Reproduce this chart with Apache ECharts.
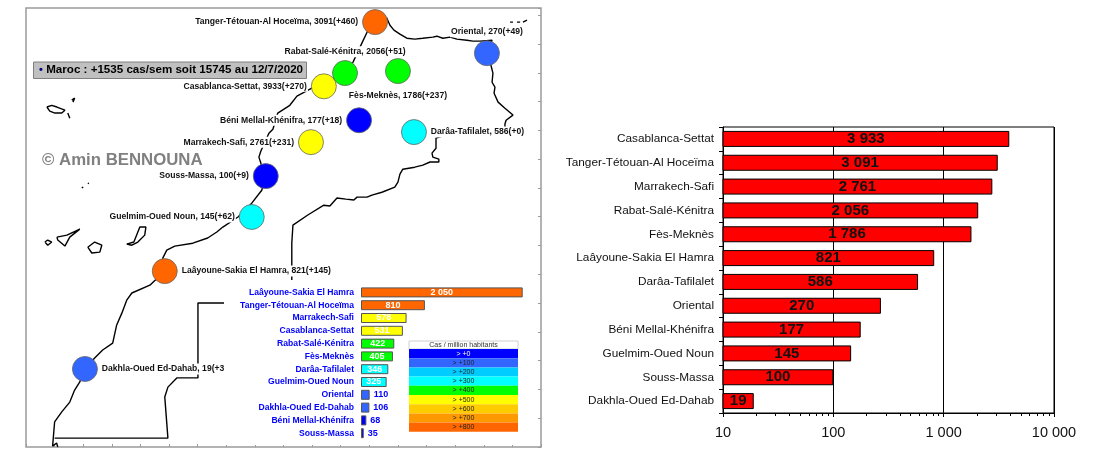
<!DOCTYPE html>
<html>
<head>
<meta charset="utf-8">
<style>html,body{margin:0;padding:0;background:#fff}#chart{width:1097px;height:455px}</style>
<script src="https://cdn.jsdelivr.net/npm/echarts@6/dist/echarts.min.js"></script>
</head>
<body>
<div id="chart"></div>
<script>
// Regional COVID-19 figures for Morocco
const regionNames = ['Casablanca-Settat','Tanger-Tétouan-Al Hoceïma','Marrakech-Safi','Rabat-Salé-Kénitra','Fès-Meknès','Laâyoune-Sakia El Hamra','Darâa-Tafilalet','Oriental','Béni Mellal-Khénifra','Guelmim-Oued Noun','Souss-Massa','Dakhla-Oued Ed-Dahab'];
const regionCases = [3933,3091,2761,2056,1786,821,586,270,177,145,100,19];
const regionWeekly = [270,460,231,51,237,145,0,49,18,62,9,3];
const regionPerMillion = [531,810,578,422,405,2050,346,110,68,325,35,106];
const regionLon = [-7.59,-5.80,-8.04,-6.85,-5.00,-13.15,-4.44,-1.89,-6.36,-10.11,-9.62,-15.94];
const regionLat = [33.53,35.76,31.59,33.99,34.06,27.11,31.94,34.68,32.35,28.99,30.41,23.71];
const regionLabelSide = ['left','left','left','top','bottom','right','right','top','left','left','left','right'];

// Colour classes of the cases-per-million scale
const classFloors = [0,100,200,300,400,500,600,700,800];
const classColors = ['#0000FF','#3366FF','#00CCFF','#00FFFF','#00FF00','#FFFF00','#FFCC00','#FF9900','#FF6600'];
const scaleTitle = 'Cas / million habitants';
const headline = 'Maroc : +1535 cas/sem soit 15745 au 12/7/2020';
const credit = '© Amin BENNOUNA';

// Outlines in degrees [lon, lat]
const mainland = [[-16.89,21.0],[-16.93,21.14],[-17.07,21.03],[-17.00,21.87],[-16.75,22.22],[-16.47,22.56],[-16.30,22.98],[-16.12,23.26],[-15.94,23.71],[-15.60,24.09],[-15.32,24.37],[-14.97,24.61],[-14.83,25.24],[-14.65,25.65],[-14.48,26.10],[-14.30,26.35],[-13.67,26.62],[-13.15,27.11],[-13.22,27.56],[-13.08,27.84],[-12.80,27.98],[-12.17,28.08],[-11.65,28.26],[-11.33,28.47],[-11.12,28.64],[-10.59,28.99],[-10.11,29.47],[-9.76,29.92],[-9.62,30.41],[-9.79,30.86],[-9.86,31.07],[-9.79,31.28],[-9.51,31.90],[-9.37,32.04],[-9.20,32.60],[-8.78,32.87],[-8.53,33.19],[-8.01,33.47],[-6.85,33.99],[-6.57,34.37],[-6.26,35.03],[-6.08,35.41],[-5.80,35.76],[-5.39,35.90],[-5.28,35.65],[-5.14,35.48],[-4.93,35.34],[-4.69,35.20],[-4.41,35.17],[-4.13,35.20],[-3.78,35.24],[-3.64,35.27],[-3.43,35.20],[-3.18,35.24],[-2.94,35.17],[-2.59,35.13],[-2.38,35.10],[-2.13,35.10],[-1.71,35.13],[-1.89,34.68],[-1.75,34.26],[-1.68,33.99],[-1.71,33.67],[-1.61,33.50],[-1.64,33.29],[-1.50,32.98],[-1.26,32.77],[-0.98,32.53],[-1.22,32.35],[-1.26,32.22],[-1.26,32.08],[-3.36,31.83],[-3.67,31.73],[-3.67,31.59],[-3.67,31.38],[-3.81,31.21],[-3.78,31.07],[-3.57,31.00],[-3.57,30.90],[-3.88,30.90],[-4.13,30.79],[-4.41,30.72],[-4.83,30.65],[-4.93,30.48],[-5.00,30.20],[-5.11,30.03],[-5.56,29.85],[-5.91,29.75],[-6.08,29.68],[-6.43,29.68],[-6.54,29.58],[-6.82,29.61],[-7.13,29.65],[-7.38,29.37],[-7.59,29.40],[-8.15,29.06],[-8.67,28.71],[-8.71,28.08],[-8.71,26.00],[-11.99,26.00],[-11.99,23.99],[-11.99,23.40],[-12.10,23.40],[-12.73,23.40],[-13.04,23.08],[-13.15,22.74],[-13.04,21.31],[-17.00,21.31]];
const madeira = [[-17.27,32.81],[-17.10,32.87],[-16.92,32.81],[-16.64,32.70],[-16.75,32.60],[-16.99,32.60],[-17.17,32.67],[-17.27,32.81]];
const portoSanto = [[-16.40,33.05],[-16.30,33.12],[-16.36,32.98]];
const desertas = [[-16.54,32.60],[-16.47,32.42]];
const selvagensA = [[-16.05,30.03],[-16.00,30.00]];
const selvagensB = [[-15.84,30.17],[-15.80,30.15]];
const gomera = [[-17.34,28.12],[-17.24,28.19],[-17.10,28.12],[-17.24,28.01],[-17.34,28.12]];
const tenerife = [[-16.92,28.29],[-16.57,28.36],[-16.12,28.57],[-16.47,28.29],[-16.64,27.98],[-16.89,28.19],[-16.92,28.29]];
const granCanaria = [[-15.84,27.94],[-15.60,28.12],[-15.35,28.01],[-15.42,27.77],[-15.70,27.74],[-15.84,27.94]];
const fuerteventura = [[-14.48,28.05],[-14.23,28.12],[-14.02,28.64],[-13.81,28.64],[-13.85,28.36],[-14.09,28.12],[-14.30,28.01],[-14.48,28.05]];
const chafarinasA = [[-1.08,35.76],[-0.98,35.76]];
const chafarinasB = [[-0.84,35.76],[-0.73,35.76]];
const chafarinasC = [[-0.63,35.76],[-0.49,35.83]];
const outlines = [mainland,madeira,portoSanto,desertas,selvagensA,selvagensB,gomera,tenerife,granCanaria,fuerteventura,chafarinasA,chafarinasB,chafarinasC];

const FONT = '"Liberation Sans", Arial, sans-serif';
const spaced = v => String(v).replace(/\B(?=(\d{3})+$)/g, ' ');
const classColor = d => { let c = classColors[0]; classFloors.forEach((f,i) => { if (d >= f) c = classColors[i]; }); return c; };

// Inset ranking by incidence
const insetOrder = regionNames.map((_,i) => i).sort((a,b) => regionPerMillion[b]-regionPerMillion[a]);

const mapSeries = outlines.map(points => ({
  type:'line', xAxisIndex:0, yAxisIndex:0, data:points, showSymbol:false, silent:true, z:2,
  lineStyle:{color:'#000', width:1.4}
}));

const bubbleSeries = {
  type:'scatter', xAxisIndex:0, yAxisIndex:0, symbolSize:25, z:3,
  data: regionNames.map((name,i) => ({
    value:[regionLon[i], regionLat[i]],
    itemStyle:{color:classColor(regionPerMillion[i]), opacity:1, borderColor:'#666', borderWidth:0.8},
    label:{
      show:true, position:regionLabelSide[i], distance:regionLabelSide[i]==='bottom'?6:3,
      formatter:`${name}, ${regionCases[i]}(+${regionWeekly[i]})`,
      fontFamily:FONT, fontWeight:'bold', fontSize:8.6, color:'#111',
      backgroundColor:'#fff', padding:[1,1,1,1]
    }
  }))
};

const insetSeries = {
  type:'bar', xAxisIndex:1, yAxisIndex:1, barWidth:10, z:12,
  data: insetOrder.map(i => {
    const d = regionPerMillion[i], big = d > 200;
    return {
      value:d,
      itemStyle:{color:classColor(d), borderColor:'#555', borderWidth:1},
      label:{
        show:true, position:big?'inside':'right', distance:4,
        formatter:spaced(d), fontFamily:FONT, fontWeight:'bold', fontSize:9,
        color:big?'#fff':'#0000FF'
      }
    };
  })
};

const rankingSeries = {
  type:'bar', xAxisIndex:2, yAxisIndex:2, barWidth:16, z:5,
  data:regionCases,
  itemStyle:{color:'#FF0000', borderColor:'#000', borderWidth:1},
  label:{show:true, position:'inside', formatter:p => spaced(p.value), fontFamily:FONT, fontWeight:'bold', fontSize:15, color:'#111'}
};

// Colour scale table and the text panels on the map
const TABLE_X = 409, TABLE_W = 109, TITLE_Y = 341, TITLE_H = 8, ROW_H = 9.2;
const graphicItems = [
  {type:'rect', z:5, silent:true, shape:{x:224,y:280,width:311,height:165}, style:{fill:'#fff'}},
  {type:'rect', z:5, silent:true, shape:{x:33.5,y:62,width:273,height:16.5}, style:{fill:'#C0C0C0', stroke:'#808080', lineWidth:1}},
  {type:'text', z:6, silent:true, x:39, y:70, style:{
    text:'{b|•} {t|'+headline+'}', verticalAlign:'middle',
    rich:{b:{fill:'#000080', fontFamily:FONT, fontWeight:'bold', fontSize:11}, t:{fill:'#000', fontFamily:FONT, fontWeight:'bold', fontSize:11.6}}
  }},
  {type:'text', z:6, silent:true, x:42, y:160, style:{text:credit, fill:'#808080', fontFamily:FONT, fontWeight:'bold', fontSize:16.8, verticalAlign:'middle'}},
  {type:'rect', z:11, silent:true, shape:{x:TABLE_X,y:TITLE_Y,width:TABLE_W,height:TITLE_H}, style:{fill:'#fff', stroke:'#d0d0d0', lineWidth:1}},
  {type:'text', z:12, silent:true, x:TABLE_X+TABLE_W/2, y:TITLE_Y+TITLE_H/2, style:{text:scaleTitle, fill:'#333', fontFamily:FONT, fontSize:7, align:'center', verticalAlign:'middle'}}
];
classFloors.forEach((f,i) => {
  const y = TITLE_Y+TITLE_H+i*ROW_H;
  graphicItems.push({type:'rect', z:11, silent:true, shape:{x:TABLE_X,y,width:TABLE_W,height:ROW_H}, style:{fill:classColors[i]}});
  graphicItems.push({type:'text', z:12, silent:true, x:TABLE_X+TABLE_W/2, y:y+ROW_H/2, style:{text:'> +'+f, fill:i===0?'#fff':'#222', fontFamily:FONT, fontSize:7, align:'center', verticalAlign:'middle'}});
});

const hiddenAxisLabel = {show:false};
const chart = echarts.init(document.getElementById('chart'), null, {renderer:'canvas'});
chart.setOption({
  animation:false,
  backgroundColor:'#fff',
  graphic:{elements:graphicItems},
  grid:[
    {left:26, top:8, width:515, height:439, show:true, borderColor:'#9a9a9a', borderWidth:1.5, backgroundColor:'#fff'},
    {left:361, top:286, width:161.7, height:153.6},
    {left:723, top:127, width:331, height:286, show:true, borderColor:'#000', borderWidth:1}
  ],
  xAxis:[
    {gridIndex:0, type:'value', min:-18, max:0, interval:1, axisLabel:hiddenAxisLabel, splitLine:{show:false},
     axisLine:{show:false}, axisTick:{show:true, inside:true, length:3, lineStyle:{color:'#9a9a9a'}}},
    {gridIndex:1, type:'value', min:0, max:2050, show:false, splitLine:{show:false}},
    {gridIndex:2, type:'log', logBase:10, min:10, max:10000, z:4,
     axisLine:{show:true, lineStyle:{color:'#000', width:1}},
     axisTick:{show:true, length:4, lineStyle:{color:'#000'}},
     minorTick:{show:true, splitNumber:9, length:3, lineStyle:{color:'#000'}},
     splitLine:{show:true, lineStyle:{color:'#000', width:1}},
     axisLabel:{formatter:v => spaced(v), fontFamily:FONT, fontSize:14.5, color:'#111', margin:12, hideOverlap:false}}
  ],
  yAxis:[
    {gridIndex:0, type:'value', position:'right', min:21, max:36.25, interval:1, axisLabel:hiddenAxisLabel, splitLine:{show:false},
     axisLine:{show:false}, axisTick:{show:true, inside:true, length:3, lineStyle:{color:'#9a9a9a'}}},
    {gridIndex:1, type:'category', inverse:true, data:insetOrder.map(i => regionNames[i]), z:12,
     axisLine:{show:false}, axisTick:{show:false},
     axisLabel:{interval:0, margin:7, fontFamily:FONT, fontWeight:'bold', fontSize:8.6, color:'#0000FF'}},
    {gridIndex:2, type:'category', inverse:true, data:regionNames, z:4,
     axisLine:{show:true, lineStyle:{color:'#000', width:1}},
     axisTick:{show:true, length:4, alignWithLabel:false, lineStyle:{color:'#000'}},
     axisLabel:{interval:0, margin:9, fontFamily:FONT, fontSize:11.8, color:'#111'}}
  ],
  series:[...mapSeries, bubbleSeries, insetSeries, rankingSeries]
});
</script>
</body>
</html>
